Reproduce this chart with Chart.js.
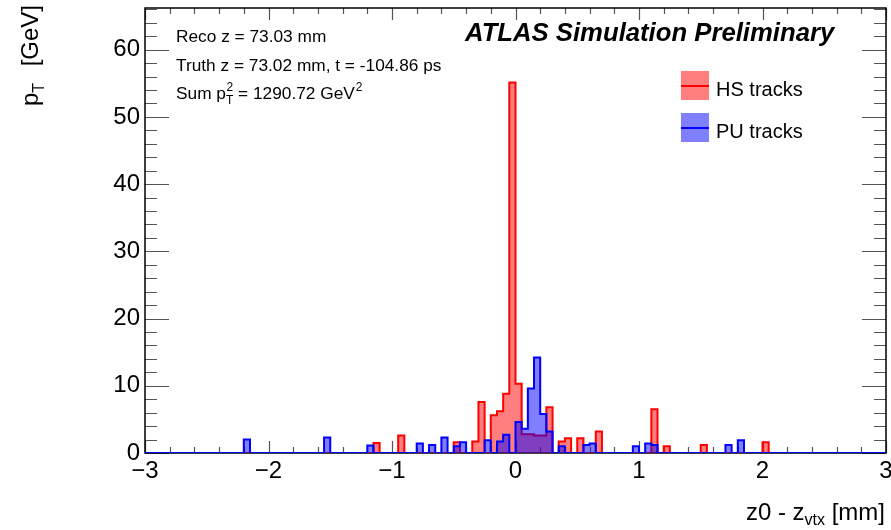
<!DOCTYPE html>
<html><head><meta charset="utf-8">
<script src="https://cdn.jsdelivr.net/npm/chart.js@4"></script>
<style>html,body{margin:0;padding:0;background:#fff}</style>
</head><body>
<canvas id="c" width="891" height="530"></canvas>
<script>
// Histogram binning (x axis): 120 bins of 0.05 mm from -3 to 3
const binLow = -3;
const binWidth = 0.05;

// HS tracks pT per bin [GeV]
const hsTracks = [
  0,0,0,0,0,0,0,0,0,0,
  0,0,0,0,0,0,0,0,0,0,
  0,0,0,0,0,0,0,0,0,0,
  0,0,0,0,0,0,0,1.5,0,0,
  0,2.6,0,0,0,0,0,0,0,0,
  1.6,0,0,1.7,7.6,0,5.6,6.2,8.8,55.1,
  10.3,2.8,2.8,2.6,2.6,6.8,0,1.7,2.2,0,
  2.2,0,0,3.2,0,0,0,0,0,0,
  0,0,6.5,0,1.0,0,0,0,0,0,
  1.2,0,0,0,0,0,0,0,0,0,
  1.6,0,0,0,0,0,0,0,0,0,
  0,0,0,0,0,0,0,0,0,0
];
// PU tracks pT per bin [GeV]
const puTracks = [
  0,0,0,0,0,0,0,0,0,0,
  0,0,0,0,0,0,2.0,0,0,0,
  0,0,0,0,0,0,0,0,0,2.3,
  0,0,0,0,0,0,1.1,0,0,0,
  0,0,0,0,1.4,0,1.2,0,2.3,0,
  1.0,1.6,0,0,0,1.9,0,1.7,2.7,0,
  4.6,3.6,9.6,14.2,5.8,3.2,0,1.0,0,0,
  0,1.2,1.4,0,0,0,0,0,0,1.0,
  0,1.4,1.2,0,0,0,0,0,0,0,
  0,0,0,0,1.2,0,1.9,0,0,0,
  0,0,0,0,0,0,0,0,0,0,
  0,0,0,0,0,0,0,0,0,0
];

const seriesNames = ['HS tracks', 'PU tracks'];
const xRange = [-3, 3];
const yRange = [0, 66.2];
const xMajorTicks = [-3, -2, -1, 0, 1, 2, 3];
const yMajorTicks = [0, 10, 20, 30, 40, 50, 60];
const infoReco = 'Reco z = 73.03 mm';
const infoTruth = 'Truth z = 73.02 mm, t = -104.86 ps';
const infoSumA = 'Sum ';
const infoSumB = ' = 1290.72 GeV';
const atlasLabel = 'ATLAS Simulation Preliminary';

const FONT = '"Liberation Sans", Arial, Helvetica, sans-serif';

function toPoints(vals) {
  const pts = vals.map((v, i) => ({ x: binLow + i * binWidth, y: v }));
  pts.push({ x: binLow + vals.length * binWidth, y: vals[vals.length - 1] });
  return pts;
}

const decor = {
  id: 'decor',
  beforeDatasetsDraw(chart) {
    const { ctx, chartArea: a, scales: { x, y } } = chart;
    ctx.save();
    // ticks (inside frame, ROOT style)
    ctx.strokeStyle = '#555';
    ctx.lineWidth = 1.2;
    ctx.beginPath();
    for (let v = xRange[0]; v <= xRange[1] + 1e-9; v += 0.2) {
      const px = Math.round(x.getPixelForValue(v)) + 0.5;
      const major = Math.abs(v - Math.round(v)) < 1e-6;
      const len = major ? 12 : 6;
      ctx.moveTo(px, a.bottom); ctx.lineTo(px, a.bottom - len);
      ctx.moveTo(px, a.top); ctx.lineTo(px, a.top + len);
    }
    for (let v = 0; v <= yRange[1] + 1e-9; v += 2) {
      const py = Math.round(y.getPixelForValue(v)) + 0.5;
      const major = (Math.round(v) % 10) === 0;
      const len = major ? 24 : 12;
      ctx.moveTo(a.left, py); ctx.lineTo(a.left + len, py);
      ctx.moveTo(a.right, py); ctx.lineTo(a.right - len, py);
    }
    ctx.stroke();
    // frame
    ctx.strokeStyle = '#000';
    ctx.lineWidth = 1.5;
    ctx.strokeRect(a.left, a.top, a.right - a.left, a.bottom - a.top);
    ctx.restore();
  },
  afterDraw(chart) {
    const { ctx } = chart;
    ctx.save();
    ctx.fillStyle = '#000';
    ctx.textBaseline = 'alphabetic';
    ctx.textAlign = 'left';

    // ATLAS label
    ctx.font = 'italic bold 21px ' + FONT;
    let w = ctx.measureText(atlasLabel).width;
    const s = 21 * 370 / w;
    ctx.font = 'italic bold ' + s.toFixed(1) + 'px ' + FONT;
    ctx.fillText(atlasLabel, 465, 41);

    // info text
    ctx.font = '17.3px ' + FONT;
    ctx.fillText(infoReco, 176, 42);
    ctx.fillText(infoTruth, 176, 71);
    let cx = 176;
    ctx.fillText(infoSumA + 'p', cx, 99);
    cx += ctx.measureText(infoSumA + 'p').width;
    ctx.font = '12px ' + FONT;
    ctx.fillText('2', cx + 0.5, 91);
    ctx.fillText('T', cx, 104);
    cx += ctx.measureText('T').width;
    ctx.font = '17.3px ' + FONT;
    ctx.fillText(infoSumB, cx, 99);
    cx += ctx.measureText(infoSumB).width;
    ctx.font = '12px ' + FONT;
    ctx.fillText('2', cx + 1, 91);

    // legend
    const leg = [
      { name: seriesNames[0], fill: 'rgba(255,0,0,0.5)', line: '#ff0000', y: 71 },
      { name: seriesNames[1], fill: 'rgba(0,0,255,0.5)', line: '#0000ff', y: 113 }
    ];
    leg.forEach(l => {
      ctx.fillStyle = l.fill;
      ctx.fillRect(681, l.y, 28, 29);
      ctx.strokeStyle = l.line;
      ctx.lineWidth = 2;
      ctx.beginPath();
      ctx.moveTo(681, l.y + 15); ctx.lineTo(709, l.y + 15);
      ctx.stroke();
      ctx.fillStyle = '#000';
      ctx.font = '20px ' + FONT;
      ctx.fillText(l.name, 716, l.y + 25);
    });

    // x-axis title: z0 - z_vtx [mm] right aligned
    const t1 = 'z0 - z', t2 = 'vtx', t3 = ' [mm]';
    ctx.font = '24px ' + FONT;
    const w1 = ctx.measureText(t1).width, w3 = ctx.measureText(t3).width;
    ctx.font = '16px ' + FONT;
    const w2 = ctx.measureText(t2).width;
    let xs = 885 - (w1 + w2 + w3);
    ctx.font = '24px ' + FONT;
    ctx.fillText(t1, xs, 520);
    ctx.font = '16px ' + FONT;
    ctx.fillText(t2, xs + w1, 525);
    ctx.font = '24px ' + FONT;
    ctx.fillText(t3, xs + w1 + w2, 520);

    // y-axis title: p_T [GeV], rotated
    ctx.translate(38, 106);
    ctx.rotate(-Math.PI / 2);
    ctx.font = '24px ' + FONT;
    ctx.fillText('p', 0, 0);
    const wp = ctx.measureText('p').width;
    ctx.font = '16px ' + FONT;
    ctx.fillText('T', wp, 6);
    ctx.font = '24px ' + FONT;
    const wg = ctx.measureText('[GeV]').width;
    ctx.fillText('[GeV]', 101 - wg, 0);
    ctx.restore();
  }
};

new Chart(document.getElementById('c'), {
  type: 'line',
  data: {
    datasets: [
      {
        label: seriesNames[0],
        data: toPoints(hsTracks),
        stepped: true,
        borderColor: '#ff0000',
        backgroundColor: 'rgba(255,0,0,0.5)',
        borderWidth: 2,
        fill: 'origin',
        pointRadius: 0,
        order: 1
      },
      {
        label: seriesNames[1],
        data: toPoints(puTracks),
        stepped: true,
        borderColor: '#0000ff',
        backgroundColor: 'rgba(0,0,255,0.5)',
        borderWidth: 2,
        fill: 'origin',
        pointRadius: 0,
        order: 0
      }
    ]
  },
  options: {
    responsive: false,
    animation: false,
    devicePixelRatio: 1,
    layout: { padding: { top: 8, right: 5, left: 0, bottom: 0 } },
    plugins: { legend: { display: false }, tooltip: { enabled: false } },
    scales: {
      x: {
        type: 'linear',
        min: xRange[0], max: xRange[1],
        afterBuildTicks: s => { s.ticks = xMajorTicks.map(v => ({ value: v })); },
        ticks: {
          font: { family: FONT, size: 24 },
          color: '#000',
          padding: 4,
          maxRotation: 0,
          callback: v => (v < 0 ? '\u2212' : '') + Math.abs(v)
        },
        grid: { display: false, drawTicks: false },
        border: { display: false },
        afterFit: s => { s.height = 77; s.paddingLeft = 0; s.paddingRight = 0; }
      },
      y: {
        min: yRange[0], max: yRange[1],
        afterBuildTicks: s => { s.ticks = yMajorTicks.map(v => ({ value: v })); },
        ticks: {
          font: { family: FONT, size: 24 },
          color: '#000',
          padding: 5
        },
        grid: { display: false, drawTicks: false },
        border: { display: false },
        afterFit: s => { s.width = 145; s.paddingTop = 0; s.paddingBottom = 0; }
      }
    }
  },
  plugins: [decor]
});
</script>
</body></html>
